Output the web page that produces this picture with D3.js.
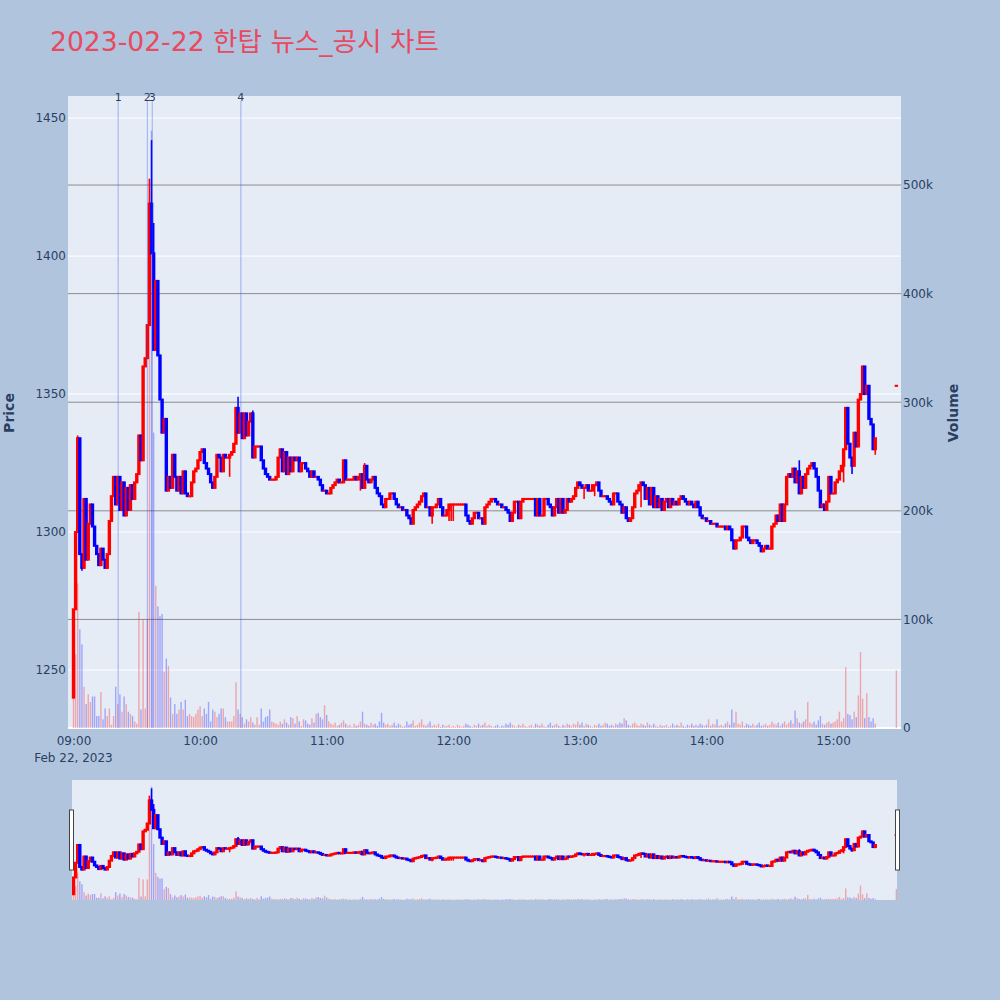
<!DOCTYPE html>
<html><head><meta charset="utf-8">
<script src="https://cdn.jsdelivr.net/npm/d3@7"></script>
<style>
body{margin:0;background:#b0c4de;}
svg{display:block;font-family:"DejaVu Sans","Noto Sans CJK KR",sans-serif;}
</style>
</head><body>
<svg id="chart" width="1000" height="1000"></svg>
<script>
// ---------------- data ----------------
const chartTitle = "2023-02-22 한탑 뉴스_공시 차트";
const tradeDay = "2023-02-22";
const sessionStart = "09:00";
const firstOpen = 1240;
// 1-minute closes from 09:00 (open of each minute = previous close)
const closes = [
1272,1300,1334,1292,1287,1312,1290,1303,1310,1302,1295,1292,1288,1294,1290,1287,1292,1304,1313,1320,
1310,1320,1308,1318,1306,1316,1308,1317,1312,1318,1321,1335,1326,1360,1363,1375,1419,1401,1366,1391,
1364,1348,1336,1341,1315,1320,1316,1328,1320,1315,1320,1314,1322,1314,1313,1313,1318,1322,1323,1326,
1329,1330,1325,1323,1321,1318,1316,1320,1328,1327,1322,1328,1327,1327,1328,1329,1332,1345,1336,1343,
1334,1343,1335,1340,1343,1327,1331,1331,1331,1326,1323,1321,1320,1319,1319,1319,1320,1327,1330,1322,
1329,1321,1327,1322,1327,1326,1327,1322,1325,1325,1323,1322,1320,1322,1320,1320,1319,1317,1315,1315,
1314,1314,1316,1317,1318,1319,1318,1318,1326,1319,1319,1319,1319,1320,1319,1320,1321,1316,1324,1319,
1318,1319,1320,1316,1314,1313,1310,1309,1312,1312,1314,1314,1312,1310,1309,1309,1308,1308,1306,1305,
1303,1308,1309,1310,1311,1313,1314,1309,1309,1306,1309,1309,1310,1312,1309,1306,1306,1308,1310,1310,
1310,1310,1310,1310,1310,1310,1306,1304,1303,1305,1307,1307,1305,1305,1303,1309,1310,1311,1312,1312,
1311,1310,1310,1309,1309,1308,1307,1304,1307,1311,1311,1305,1311,1312,1312,1312,1312,1312,1312,1306,
1312,1306,1306,1312,1312,1310,1309,1306,1309,1312,1307,1312,1307,1308,1312,1311,1312,1313,1316,1318,
1317,1316,1316,1317,1315,1315,1317,1317,1318,1315,1313,1313,1313,1312,1311,1310,1314,1314,1311,1310,
1307,1309,1305,1304,1305,1309,1314,1315,1317,1318,1317,1312,1316,1310,1316,1309,1313,1309,1312,1308,
1311,1312,1309,1312,1310,1311,1310,1312,1313,1312,1311,1310,1311,1310,1309,1311,1309,1306,1305,1305,
1304,1304,1303,1303,1303,1302,1302,1302,1302,1301,1302,1301,1297,1294,1297,1297,1298,1302,1302,1298,
1297,1296,1297,1297,1296,1295,1293,1294,1295,1294,1294,1302,1303,1306,1304,1310,1304,1310,1320,1321,
1320,1323,1318,1322,1314,1320,1316,1321,1323,1324,1325,1323,1320,1315,1309,1310,1308,1311,1320,1314,
1314,1318,1319,1322,1324,1330,1345,1332,1327,1324,1336,1331,1348,1350,1360,1350,1353,1341,1339,1330,1334
];
// 1-minute volumes in thousands of shares
const volumesK = [
43,68,133,91,77,38,22,31,24,29,29,11,11,33,8,18,11,18,3,11,
38,22,31,15,29,22,15,13,11,6,4,107,17,100,18,100,506,550,272,131,
112,103,105,52,64,57,28,13,22,13,17,24,17,26,11,13,11,10,13,17,
20,11,18,13,24,6,17,15,10,13,18,18,10,6,6,6,11,42,17,13,
10,4,8,6,10,5,3,10,3,18,6,10,11,17,6,5,4,3,6,4,
8,5,3,10,9,4,11,6,2,8,7,4,3,9,5,13,14,10,8,21,
12,6,4,3,5,2,3,5,7,4,2,3,1,4,2,3,6,15,4,3,
2,5,3,4,2,6,14,5,3,4,2,3,5,2,4,3,1,2,6,3,
4,7,2,3,5,8,3,2,4,6,2,3,2,4,1,3,2,2,3,1,
2,1,3,2,1,2,4,3,2,1,3,2,4,2,3,5,2,3,2,1,
2,3,1,2,2,4,3,5,3,2,1,3,2,4,2,1,2,3,1,4,
3,2,4,2,1,3,5,2,3,4,2,1,3,2,4,3,2,4,3,6,
3,5,2,4,3,2,1,3,2,4,2,3,5,4,2,3,2,4,3,5,
4,9,7,3,2,4,5,3,2,4,3,2,5,3,2,4,2,1,3,2,
2,3,1,2,4,2,3,2,5,2,1,3,2,4,2,3,2,4,3,2,
3,8,2,4,3,8,2,3,2,4,6,3,17,5,15,4,3,6,2,4,
3,2,4,2,3,5,2,3,4,2,3,6,4,3,5,2,4,6,3,5,
7,4,16,9,5,4,6,8,24,5,4,6,3,7,11,4,3,5,6,4,
5,6,8,15,6,9,56,13,12,8,15,10,30,70,27,9,32,10,6,9,4
];
// closing auction print
const auctionTime = "15:30";
const auctionOpen = 1353;
const auctionClose = 1353;
const auctionVolumeK = 53;
// [minute index, price] wick extremes
const wickHighs = [[2,1335],[36,1428],[37,1442],[38,1412],[40,1380],[78,1349],[85,1344],[128,1326],[138,1325],[344,1326],[367,1345],[375,1359]];
const wickLows = [[4,1286],[74,1320],[136,1315],[161,1303],[170,1303],[178,1304],[179,1304],[180,1304],[208,1304],[242,1312],[247,1313],[269,1309],[365,1318],[369,1321],[380,1328]];
// news markers
const newsLabels = ["1","2","3","4"];
const newsTimes = ["09:21:10","09:35:00","09:37:20","10:19:20"];
// axes
const priceTicks = [1250,1300,1350,1400,1450];
const volumeTicks = [0,100000,200000,300000,400000,500000];
const volumeTickLabels = ["0","100k","200k","300k","400k","500k"];
const timeTicks = ["09:00","10:00","11:00","12:00","13:00","14:00","15:00"];
const dateLabel = "Feb 22, 2023";
const priceRange = [1229, 1458];
const volumeRange = [0, 582000];
const timeRange = ["08:57:24","15:32:12"];

// ---------------- build ----------------
const parseHM = d3.timeParse("%Y-%m-%d %H:%M");
const parseHMS = d3.timeParse("%Y-%m-%d %H:%M:%S");
const t0 = parseHM(tradeDay + " " + sessionStart);
const hiMap = new Map(wickHighs), loMap = new Map(wickLows);
const rows = closes.map((c, i) => {
  const o = i === 0 ? firstOpen : closes[i - 1];
  const h = Math.max(o, c, hiMap.has(i) ? hiMap.get(i) : -Infinity);
  const l = Math.min(o, c, loMap.has(i) ? loMap.get(i) : Infinity);
  return {t: d3.timeMinute.offset(t0, i), o, h, l, c, v: volumesK[i] * 1000};
});
rows.push({t: parseHM(tradeDay + " " + auctionTime), o: auctionOpen, h: Math.max(auctionOpen, auctionClose),
  l: Math.min(auctionOpen, auctionClose), c: auctionClose, v: auctionVolumeK * 1000});

const UP = "#ff0000", DOWN = "#0000ff";
const col = d => d.c >= d.o ? UP : DOWN;

const svg = d3.select("#chart");
svg.append("rect").attr("width", 1000).attr("height", 1000).attr("fill", "#b0c4de");

const L = 68, R = 901, T = 96, B = 728;
const x = d3.scaleTime().domain(timeRange.map(s => parseHMS(tradeDay + " " + s))).range([L, R]);
const yP = d3.scaleLinear().domain(priceRange).range([B, T]);
const yV = d3.scaleLinear().domain(volumeRange).range([B, T]);

// title
svg.append("text").attr("x", 50).attr("y", 51).attr("font-size", 26.6).attr("fill", "#e84a5f").text(chartTitle);

// plot background
svg.append("rect").attr("x", L).attr("y", T).attr("width", R - L).attr("height", B - T).attr("fill", "#e5ecf6");
svg.append("clipPath").attr("id", "clipMain").append("rect").attr("x", L).attr("y", T).attr("width", R - L).attr("height", B - T);

// price grid (white)
svg.append("g").selectAll("line").data(priceTicks).join("line")
  .attr("x1", L).attr("x2", R).attr("y1", d => yP(d)).attr("y2", d => yP(d))
  .attr("stroke", "#ffffff").attr("stroke-width", 1);
// volume grid (gray) + zero line
svg.append("g").selectAll("line").data(volumeTicks.filter(v => v > 0)).join("line")
  .attr("x1", L).attr("x2", R).attr("y1", d => yV(d)).attr("y2", d => yV(d))
  .attr("stroke", "#8c8c8c").attr("stroke-width", 1);
svg.append("line").attr("x1", L).attr("x2", R).attr("y1", yV(0)).attr("y2", yV(0))
  .attr("stroke", "#ffffff").attr("stroke-width", 2);

function drawCandles(g, xs, ys) {
  g.selectAll("line.wick").data(rows).join("line").attr("class", "wick")
    .attr("x1", d => xs(d.t)).attr("x2", d => xs(d.t))
    .attr("y1", d => ys(d.h)).attr("y2", d => ys(d.l))
    .attr("stroke", col).attr("stroke-width", 1.6);
  g.selectAll("rect.body").data(rows).join("rect").attr("class", "body")
    .attr("x", d => xs(d.t) - 0.7).attr("width", 1.4)
    .attr("y", d => ys(Math.max(d.o, d.c)))
    .attr("height", d => Math.max(0.1, Math.abs(ys(d.o) - ys(d.c))))
    .attr("fill", col).attr("stroke", col).attr("stroke-width", 2);
}
function drawVolume(g, xs, ys) {
  g.selectAll("rect").data(rows).join("rect")
    .attr("x", d => xs(d.t) - 0.7).attr("width", 1.4)
    .attr("y", d => ys(d.v)).attr("height", d => ys(0) - ys(d.v))
    .attr("fill", col).attr("fill-opacity", 0.3);
}

const main = svg.append("g").attr("clip-path", "url(#clipMain)");
drawCandles(main.append("g"), x, yP);
drawVolume(main.append("g"), x, yV);

// news lines
const news = newsTimes.map((s, i) => ({t: parseHMS(tradeDay + " " + s), label: newsLabels[i]}));
svg.append("g").selectAll("line").data(news).join("line")
  .attr("x1", d => x(d.t)).attr("x2", d => x(d.t)).attr("y1", 101).attr("y2", B)
  .attr("stroke", "#3050f0").attr("stroke-opacity", 0.4).attr("stroke-width", 1);
svg.append("g").selectAll("text").data(news).join("text")
  .attr("x", d => x(d.t)).attr("y", 101).attr("text-anchor", "middle")
  .attr("font-size", 11).attr("fill", "#2a3f5f").text(d => d.label);

// axes
function styleAxis(g) {
  g.select(".domain").remove();
  g.selectAll("text").attr("font-size", 12).attr("fill", "#2a3f5f").attr("font-family", '"DejaVu Sans",sans-serif');
}
svg.append("g").attr("transform", `translate(${L},0)`)
  .call(d3.axisLeft(yP).tickValues(priceTicks).tickFormat(d3.format("d")).tickSize(0).tickPadding(2)).call(styleAxis);
svg.append("g").attr("transform", `translate(${R},0)`)
  .call(d3.axisRight(yV).tickValues(volumeTicks).tickFormat((d, i) => volumeTickLabels[i]).tickSize(0).tickPadding(2)).call(styleAxis);
svg.append("g").attr("transform", `translate(0,${B})`)
  .call(d3.axisBottom(x).tickValues(timeTicks.map(s => parseHM(tradeDay + " " + s))).tickFormat(d3.timeFormat("%H:%M")).tickSize(0).tickPadding(8)).call(styleAxis);
svg.append("text").attr("x", x(t0)).attr("y", 762).attr("text-anchor", "middle")
  .attr("font-size", 12).attr("fill", "#2a3f5f").text(dateLabel);

// axis titles
svg.append("text").attr("transform", "translate(14,413) rotate(-90)").attr("text-anchor", "middle")
  .attr("font-size", 14).attr("font-weight", "bold").attr("fill", "#2a3f5f").text("Price");
svg.append("text").attr("transform", "translate(958,413) rotate(-90)").attr("text-anchor", "middle")
  .attr("font-size", 14).attr("font-weight", "bold").attr("fill", "#2a3f5f").text("Volume");

// range slider
const SL = 72, SR = 897, ST = 780, SB = 900;
svg.append("rect").attr("x", SL).attr("y", ST).attr("width", SR - SL).attr("height", SB - ST).attr("fill", "#e5ecf6");
svg.append("clipPath").attr("id", "clipSlider").append("rect").attr("x", SL).attr("y", ST).attr("width", SR - SL).attr("height", SB - ST);
const ysP = d3.scaleLinear().domain(priceRange).range([SB, ST]);
const ysV = d3.scaleLinear().domain(volumeRange).range([SB, ST]);
const slider = svg.append("g").attr("clip-path", "url(#clipSlider)");
drawCandles(slider.append("g"), x, ysP);
drawVolume(slider.append("g"), x, ysV);
[SL - 2.5, SR - 1.5].forEach(hx => {
  svg.append("rect").attr("x", hx).attr("y", 810).attr("width", 4).attr("height", 60)
    .attr("fill", "#ffffff").attr("stroke", "#444").attr("stroke-width", 1);
});
</script>
</body></html>
